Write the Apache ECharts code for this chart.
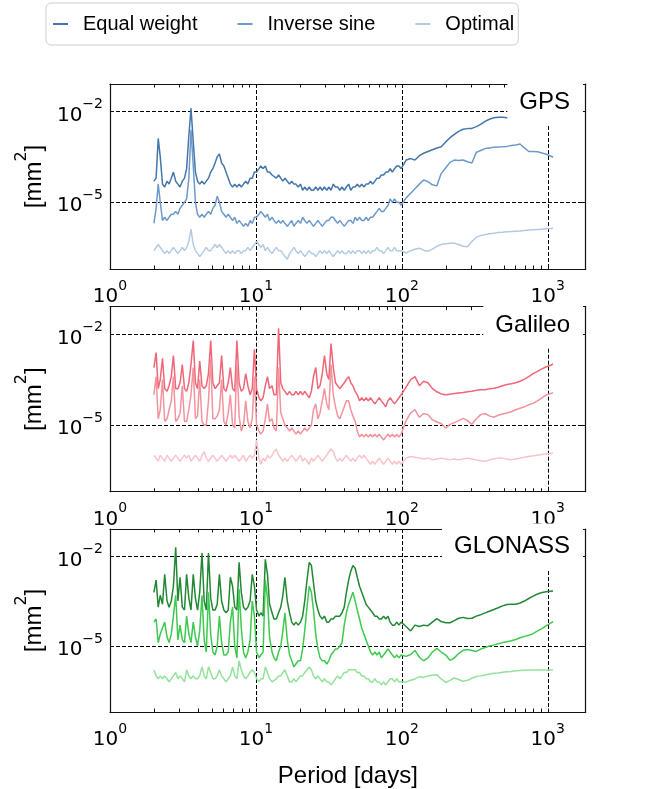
<!DOCTYPE html>
<html><head><meta charset="utf-8">
<script src="https://cdn.jsdelivr.net/npm/echarts@6/dist/echarts.min.js"></script>
<style>html,body{margin:0;padding:0;background:#fff}#c{width:648px;height:789px}</style>
</head><body><div id="c"></div>
<script>
const FONT = "'Liberation Sans', Arial, Helvetica, sans-serif";
const MATH = "'DejaVu Sans', sans-serif";
const seriesNames = ['Equal weight', 'Inverse sine', 'Optimal'];
const panelNames = ['GPS', 'Galileo', 'GLONASS'];
const xLabelTicks = [1, 10, 100, 1000];
const xGridTicks = [10, 100, 1000];
const xAllTicks = [1,2,3,4,5,6,7,8,9,10,20,30,40,50,60,70,80,90,100,200,300,400,500,600,700,800,900,1000];
const yLabelTicks = [1e-5, 1e-2];

// Period [days] sample points shared by all series
const periods = [2.00,2.07,2.14,2.21,2.29,2.37,2.46,2.54,2.63,2.72,2.82,2.92,3.02,3.13,3.24,3.35,3.47,3.59,3.72,3.85,3.98,4.12,4.27,4.42,4.57,4.73,4.90,5.07,5.25,5.43,5.62,5.82,6.03,6.24,6.46,6.68,6.92,7.16,7.41,7.67,7.94,8.22,8.51,8.81,9.12,9.44,9.77,10.1,10.5,10.8,11.2,11.6,12.0,12.4,12.9,13.3,13.8,14.3,14.8,15.3,15.8,16.4,17.0,17.6,18.2,18.8,19.5,20.2,20.9,21.6,22.4,23.2,24.0,24.8,25.7,26.6,27.5,28.5,29.5,30.6,31.6,32.7,33.9,35.1,36.3,37.6,38.9,40.3,41.7,43.2,44.7,46.2,47.9,49.5,51.3,53.1,55.0,56.9,58.9,61.0,63.1,65.3,67.6,70.0,72.4,75.0,77.6,80.4,83.2,86.1,89.1,92.3,95.5,98.9,107,115,123,132,141,151,162,174,186,200,214,229,245,263,282,302,324,347,372,398,427,457,490,525,562,603,646,692,741,794,851,912,977,1047,1087];

// GPS [mm^2]
const gpsEqual = [5e-5,6.3e-5,1.3e-3,3.2e-4,4e-5,3.2e-5,5e-5,4e-5,6.3e-5,1e-4,
5e-5,4e-5,3.2e-5,5e-5,6.3e-5,1.3e-4,1.6e-3,1.3e-2,1e-3,1e-4,
5e-5,4e-5,5e-5,4e-5,5e-5,6.3e-5,1e-4,1.3e-4,2e-4,3.2e-4,
4e-4,2e-4,1.6e-4,1e-4,6.3e-5,4e-5,3.2e-5,4e-5,3.2e-5,4e-5,
3.2e-5,4e-5,5e-5,4e-5,6.3e-5,6.3e-5,1e-4,1e-4,1.3e-4,1.6e-4,
1.3e-4,1.6e-4,1e-4,1e-4,8e-5,8e-5,6.3e-5,8e-5,6.3e-5,5e-5,
6.3e-5,5e-5,4e-5,5e-5,4e-5,4e-5,3.2e-5,4e-5,2.5e-5,3.2e-5,
2.5e-5,3.2e-5,2.5e-5,2.5e-5,3.2e-5,2.5e-5,3.2e-5,2.5e-5,3.2e-5,2.5e-5,
3.2e-5,2.5e-5,4e-5,3.2e-5,3.2e-5,2.5e-5,3.2e-5,2.5e-5,3.2e-5,4e-5,
2.5e-5,3.2e-5,3.2e-5,4e-5,3.2e-5,4e-5,3.2e-5,4e-5,4e-5,5e-5,
4e-5,5e-5,6.3e-5,6.3e-5,8e-5,8e-5,1e-4,1e-4,1.3e-4,1e-4,
1.3e-4,1.6e-4,1.6e-4,1.3e-4,
2.5e-4,2.8e-4,2.5e-4,3.5e-4,4.2e-4,4.8e-4,5.5e-4,6.3e-4,6.9e-4,1e-3,
1.38e-3,1.78e-3,2.24e-3,2.63e-3,2.75e-3,2.8e-3,3.2e-3,3.8e-3,4.8e-3,5.6e-3,
6.3e-3,6.6e-3,6.6e-3,6.3e-3,6e-3,null,null,null,null,null,null,null,null,null,null];
const gpsInverse = [2e-6,6.3e-6,4e-5,1e-5,2.5e-6,3.2e-6,2.5e-6,3.2e-6,4e-6,4e-6,
5e-6,4e-6,6.3e-6,8e-6,1e-5,1.3e-5,6.3e-5,2.5e-3,1.6e-4,1e-5,
4e-6,3.2e-6,4e-6,3.2e-6,4e-6,5e-6,4e-6,6.3e-6,8e-6,1.6e-5,
1e-5,5e-6,4e-6,3.2e-6,4e-6,3.2e-6,2.5e-6,3.2e-6,2e-6,2.5e-6,
2e-6,1.6e-6,2e-6,1.6e-6,2.5e-6,2e-6,3.2e-6,3.2e-6,4e-6,5e-6,
4e-6,3.2e-6,4e-6,2.5e-6,3.2e-6,2.5e-6,2e-6,2.5e-6,2e-6,2.5e-6,
2e-6,1.6e-6,2e-6,2.5e-6,1.6e-6,2e-6,2.5e-6,2e-6,3.2e-6,2.5e-6,
2e-6,2.5e-6,2e-6,1.6e-6,2e-6,2.5e-6,2e-6,1.6e-6,2e-6,2.5e-6,
2.5e-6,3.2e-6,3.2e-6,2.5e-6,2e-6,2.5e-6,2e-6,1.6e-6,2e-6,2.5e-6,
2.5e-6,2e-6,3.2e-6,2.5e-6,3.2e-6,2.5e-6,2.5e-6,3.2e-6,2.5e-6,3.2e-6,
3.2e-6,4e-6,5e-6,6.3e-6,5e-6,5e-6,6.3e-6,8e-6,1.3e-5,1e-5,
1.3e-5,1e-5,1e-5,8e-6,
1.4e-5,2e-5,2.8e-5,4e-5,5.5e-5,4.8e-5,3.8e-5,3.5e-5,8.9e-5,1.4e-4,
2.1e-4,2.5e-4,2.4e-4,2.5e-4,2.2e-4,2e-4,4.5e-4,5.2e-4,6e-4,6.3e-4,
6.6e-4,6.8e-4,6.9e-4,7.1e-4,7.6e-4,7.9e-4,8.5e-4,6.3e-4,4.8e-4,4.8e-4,4.7e-4,4.3e-4,3.9e-4,3.4e-4,3.1e-4];
const gpsOptimal = [2.5e-7,3.2e-7,4e-7,3.2e-7,2.5e-7,2e-7,2.5e-7,2e-7,2.5e-7,3.2e-7,
2.5e-7,2e-7,2.5e-7,3.2e-7,2.5e-7,3.2e-7,5e-7,1.3e-6,4e-7,2.5e-7,
2e-7,1.6e-7,2e-7,2.5e-7,3.2e-7,2.5e-7,2.5e-7,3.2e-7,4e-7,3.2e-7,
4e-7,3.2e-7,2.5e-7,2e-7,2.5e-7,2e-7,2.5e-7,2e-7,2.5e-7,2.5e-7,
2e-7,2.5e-7,2.5e-7,3.2e-7,2.5e-7,3.2e-7,4e-7,5e-7,4e-7,3.2e-7,
4e-7,2.5e-7,3.2e-7,2.5e-7,2e-7,2.5e-7,3.2e-7,2.5e-7,2.5e-7,2e-7,
1.6e-7,1.3e-7,2e-7,2.5e-7,3.2e-7,2.5e-7,2e-7,2.5e-7,2e-7,1.6e-7,
2e-7,2.5e-7,2e-7,2e-7,1.6e-7,2e-7,2.5e-7,2e-7,2.5e-7,2e-7,
2.5e-7,2e-7,1.6e-7,2e-7,2.5e-7,2e-7,2.5e-7,2e-7,2e-7,2.5e-7,
2e-7,2.5e-7,2e-7,2.5e-7,2.5e-7,2e-7,2.5e-7,2e-7,2.5e-7,2e-7,
2.5e-7,2.5e-7,3.2e-7,2.5e-7,2.5e-7,2e-7,2.5e-7,3.2e-7,2.5e-7,2.5e-7,
3.2e-7,2.5e-7,2.5e-7,2.5e-7,
2.1e-7,2.5e-7,2.8e-7,3e-7,2.6e-7,2.4e-7,2.8e-7,3.5e-7,4e-7,4.2e-7,
4.4e-7,4.4e-7,4e-7,3.5e-7,3.4e-7,5e-7,7e-7,7.9e-7,8.5e-7,9.1e-7,
9.5e-7,1e-6,1.02e-6,1.05e-6,1.07e-6,1.1e-6,1.12e-6,1.17e-6,1.2e-6,1.23e-6,1.26e-6,1.29e-6,1.32e-6,1.35e-6,1.38e-6];

// Galileo [mm^2]
const galEqual = [8e-4,2.5e-3,1.6e-4,3.2e-4,1.6e-3,1.6e-4,1.3e-4,2e-4,4e-4,2e-3,
1.6e-4,1.6e-4,2.5e-4,1e-3,1.6e-4,1.3e-4,2.5e-4,1e-3,6.3e-3,2.5e-4,
1.6e-4,1.3e-3,2e-4,1.6e-4,2e-4,5e-4,6.3e-3,2.5e-4,1.6e-4,2e-4,
2.5e-4,2e-3,1.6e-4,1.3e-4,2.5e-4,8e-4,1.6e-4,1.3e-4,6.3e-3,2.5e-4,
1.3e-4,1.6e-4,5e-4,2e-4,1e-4,1.6e-4,3.2e-3,1.6e-4,8e-5,6.3e-5,
8e-5,2e-4,4e-4,1.6e-4,2e-4,1e-4,1e-4,1.6e-2,2.5e-4,1.6e-4,
1.3e-4,1e-4,1.3e-4,1e-4,1e-4,1.3e-4,1e-4,1.3e-4,1e-4,1.3e-4,
1e-4,8e-5,1.3e-4,4e-4,8e-4,1.6e-4,2e-4,5e-4,2e-3,5e-4,
3.2e-4,5e-3,8e-4,2.5e-4,2e-4,1.6e-4,2e-4,2.5e-4,3.2e-4,4e-4,
2.5e-4,2e-4,1.3e-4,1e-4,6.3e-5,8e-5,6.3e-5,8e-5,6.3e-5,8e-5,
6.3e-5,5e-5,6.3e-5,8e-5,6.3e-5,5e-5,4e-5,6.3e-5,8e-5,6.3e-5,
5e-5,6.3e-5,8e-5,1e-4,
1.8e-4,3.2e-4,4e-4,2e-4,2.8e-4,2.5e-4,1.6e-4,1.26e-4,1.07e-4,1e-4,
1.05e-4,1.1e-4,1.15e-4,1.2e-4,1.26e-4,1.32e-4,1.41e-4,1.48e-4,1.48e-4,1.58e-4,
1.66e-4,1.78e-4,2e-4,2.2e-4,2.34e-4,2.5e-4,2.8e-4,3.3e-4,4e-4,5e-4,6e-4,7.2e-4,8.5e-4,9.5e-4,1.05e-3];
const galInverse = [1e-4,4e-4,1.6e-5,3.2e-5,3.2e-4,1.3e-5,1.6e-5,3.2e-5,6.3e-5,4e-4,
1.3e-5,1.6e-5,2.5e-5,2e-4,1.3e-5,1.3e-5,3.2e-5,1e-4,8e-4,1.6e-5,
2e-5,3.2e-4,1.3e-5,1e-5,1e-5,6.3e-5,1.6e-3,1.6e-5,1.6e-5,2e-5,
3.2e-5,3.2e-4,1.3e-5,1e-5,2.5e-5,1e-4,1e-5,8e-6,1.3e-3,2e-5,
6.3e-6,1e-5,6.3e-5,1.3e-5,8e-6,1.6e-5,4e-4,1e-5,6.3e-6,5e-6,
6.3e-6,1.6e-5,5e-5,1.3e-5,1.6e-5,8e-6,6.3e-6,8e-4,2.5e-5,1.6e-5,
1e-5,8e-6,6.3e-6,8e-6,6.3e-6,5e-6,6.3e-6,5e-6,6.3e-6,8e-6,
6.3e-6,8e-6,1e-5,3.2e-5,5e-5,1.6e-5,2.5e-5,6.3e-5,1.6e-4,5e-5,
3.2e-5,1e-3,1e-4,4e-5,2e-5,1.6e-5,2.5e-5,4e-5,6.3e-5,6.3e-5,
3.2e-5,2e-5,1.3e-5,6.3e-6,4e-6,5e-6,4e-6,5e-6,4e-6,5e-6,
4e-6,5e-6,4e-6,5e-6,4e-6,3.2e-6,4e-6,5e-6,4e-6,5e-6,
4e-6,5e-6,4e-6,5e-6,
1.4e-5,2.5e-5,3.2e-5,1.8e-5,2.4e-5,2.2e-5,1.5e-5,1.26e-5,1.12e-5,8e-6,
1.05e-5,1.2e-5,1.4e-5,1.66e-5,1.4e-5,1.05e-5,1.58e-5,2.2e-5,2.4e-5,2e-5,
1.8e-5,2.1e-5,2.3e-5,2.5e-5,2.75e-5,3.2e-5,3.6e-5,4e-5,4.7e-5,5.2e-5,6.3e-5,7.9e-5,1e-4,1.1e-4,1.17e-4];
const galOptimal = [1e-6,8e-7,6.3e-7,1e-6,8e-7,6.3e-7,1e-6,8e-7,6.3e-7,8e-7,
1e-6,8e-7,6.3e-7,8e-7,1e-6,8e-7,1e-6,6.3e-7,8e-7,1e-6,
8e-7,6.3e-7,1e-6,1.3e-6,8e-7,6.3e-7,8e-7,1e-6,8e-7,6.3e-7,
8e-7,1e-6,8e-7,6.3e-7,8e-7,1e-6,8e-7,1e-6,8e-7,6.3e-7,
8e-7,1e-6,6.3e-7,8e-7,1e-6,8e-7,1e-6,3.2e-6,8e-7,5e-7,
8e-7,6.3e-7,1e-6,8e-7,1e-6,1.3e-6,1.6e-6,1e-6,8e-7,6.3e-7,
8e-7,6.3e-7,8e-7,1e-6,8e-7,6.3e-7,8e-7,1e-6,6.3e-7,8e-7,
6.3e-7,5e-7,8e-7,6.3e-7,8e-7,1e-6,8e-7,6.3e-7,8e-7,1e-6,
1.3e-6,1.6e-6,1.3e-6,8e-7,6.3e-7,8e-7,6.3e-7,8e-7,1e-6,8e-7,
6.3e-7,8e-7,6.3e-7,8e-7,1e-6,8e-7,1e-6,8e-7,6.3e-7,5e-7,
6.3e-7,5e-7,6.3e-7,8e-7,6.3e-7,5e-7,6.3e-7,8e-7,6.3e-7,5e-7,
6.3e-7,5e-7,6.3e-7,5e-7,
8e-7,9e-7,8.5e-7,8e-7,7.5e-7,8e-7,7e-7,7.5e-7,8e-7,7.5e-7,
7e-7,7.5e-7,7e-7,7.5e-7,8e-7,7.5e-7,7e-7,6.5e-7,6.3e-7,7e-7,
7.5e-7,8e-7,8e-7,7.5e-7,7e-7,7.5e-7,8e-7,8.5e-7,9e-7,9.5e-7,1e-6,1.05e-6,1.1e-6,1.15e-6,1.2e-6];

// GLONASS [mm^2]
const gloEqual = [6.3e-4,1.6e-3,2e-4,5e-4,2.5e-4,2.5e-3,3.2e-4,2e-4,3.2e-4,1e-3,
2e-2,3.2e-4,2e-3,2e-4,1.6e-4,2.5e-3,4e-4,1.6e-4,2.5e-3,4e-4,
1.6e-4,6.3e-4,1.3e-2,3.2e-4,1.6e-4,1.3e-2,4e-4,1.6e-4,1.6e-4,2.5e-4,
2.5e-3,3.2e-4,1.6e-4,1.3e-4,1.6e-4,2e-3,1e-3,2e-4,1.6e-4,6.3e-3,
6.3e-4,2e-4,1.6e-4,2e-4,3.2e-4,2.5e-3,1e-3,1.6e-4,1e-4,1.3e-4,
1e-4,8e-3,2.5e-3,2.5e-4,1.3e-4,8e-5,8e-5,1.3e-4,2e-4,5e-4,
2e-3,3.2e-4,1.3e-4,6.3e-5,5e-5,6.3e-5,5e-5,6.3e-5,1e-4,3.2e-4,
1.6e-3,6.3e-3,5e-3,1.3e-3,3.2e-4,1.6e-4,1e-4,8e-5,1e-4,6.3e-5,
6.3e-5,8e-5,8e-5,1e-4,1e-4,1e-4,1.3e-4,2e-4,6.3e-4,1.6e-3,
3.2e-3,5e-3,4e-3,2e-3,1e-3,6.3e-4,4e-4,2.5e-4,2e-4,1.6e-4,
1.3e-4,1e-4,1e-4,8e-5,8e-5,1e-4,8e-5,1e-4,6.3e-5,5e-5,
5e-5,6.3e-5,5e-5,6.3e-5,
4.5e-5,3.2e-5,5e-5,4.5e-5,5e-5,4.8e-5,6.3e-5,8.3e-5,6.6e-5,6e-5,
6e-5,7.1e-5,8.5e-5,9.1e-5,8.3e-5,8.5e-5,1e-4,1.12e-4,1.29e-4,1.45e-4,
1.66e-4,1.9e-4,2.2e-4,2.45e-4,2.5e-4,2.5e-4,2.75e-4,3.2e-4,3.9e-4,4.7e-4,5.5e-4,6.2e-4,6.6e-4,6.8e-4,6.9e-4];
const gloInverse = [6.3e-5,8e-5,1.3e-5,2.5e-5,4e-5,6.3e-5,2e-5,1.3e-5,2.5e-5,1e-4,
5e-4,1.6e-5,5e-5,1.6e-5,1.3e-5,1e-4,2.5e-5,1.3e-5,6.3e-5,2e-5,
1e-5,3.2e-5,5e-4,1.6e-5,6.3e-6,6.3e-4,2.5e-5,6.3e-6,5e-6,1e-5,
1e-4,1.3e-5,5e-6,5e-6,6.3e-6,6.3e-5,2e-4,1e-5,4e-6,8e-4,
4e-5,6.3e-6,4e-6,6.3e-6,1.6e-5,3.2e-4,1e-4,6.3e-6,4e-6,5e-6,
6.3e-6,1.6e-3,4e-4,2e-5,6.3e-6,4e-6,3.2e-6,6.3e-6,1e-5,3.2e-5,
1.3e-4,1.6e-5,5e-6,3.2e-6,2e-6,2.5e-6,3.2e-6,3.2e-6,8e-6,3.2e-5,
2e-4,1e-3,6.3e-4,1.6e-4,2.5e-5,8e-6,4e-6,3.2e-6,3.2e-6,2.5e-6,
3.2e-6,5e-6,6.3e-6,8e-6,8e-6,1e-5,1.3e-5,5e-5,1.3e-4,2.5e-4,
4e-4,6.3e-4,3.2e-4,1.6e-4,8e-5,4e-5,2.5e-5,1.6e-5,1e-5,6.3e-6,
5e-6,6.3e-6,5e-6,6.3e-6,4e-6,5e-6,6.3e-6,8e-6,6.3e-6,5e-6,
4e-6,5e-6,4e-6,5e-6,
4.5e-6,5.2e-6,7.1e-6,4.2e-6,3.2e-6,4e-6,6.3e-6,8.3e-6,6.3e-6,5e-6,
3.3e-6,4e-6,5.6e-6,7.2e-6,7.6e-6,7.1e-6,6.6e-6,7.9e-6,8.9e-6,1e-5,
1.07e-5,1.2e-5,1.3e-5,1.4e-5,1.5e-5,1.66e-5,1.9e-5,2.1e-5,2.3e-5,2.6e-5,3.2e-5,3.8e-5,4.8e-5,5.8e-5,6.6e-5];
const gloOptimal = [1.6e-6,1e-6,8e-7,1e-6,8e-7,1e-6,8e-7,6.3e-7,8e-7,1e-6,
1.3e-6,8e-7,1e-6,8e-7,6.3e-7,1.6e-6,1e-6,8e-7,1e-6,8e-7,
8e-7,1e-6,2e-6,1e-6,8e-7,2e-6,1.3e-6,8e-7,8e-7,1e-6,
1.6e-6,1e-6,8e-7,6.3e-7,8e-7,1e-6,2e-6,1e-6,8e-7,3.2e-6,
1.6e-6,1e-6,8e-7,1e-6,1.3e-6,1.6e-6,1.3e-6,8e-7,6.3e-7,8e-7,
8e-7,2e-6,1.3e-6,8e-7,6.3e-7,6.3e-7,8e-7,1e-6,1e-6,1.3e-6,
1.6e-6,1e-6,6.3e-7,6.3e-7,8e-7,6.3e-7,8e-7,1e-6,1e-6,1.3e-6,
1.6e-6,2e-6,1.6e-6,1e-6,8e-7,1e-6,8e-7,6.3e-7,8e-7,6.3e-7,
6.3e-7,5e-7,6.3e-7,8e-7,1e-6,8e-7,1e-6,1.3e-6,1.3e-6,1.6e-6,
1.6e-6,1.6e-6,1.6e-6,1.3e-6,1.3e-6,1e-6,1e-6,8e-7,8e-7,6.3e-7,
6.3e-7,8e-7,6.3e-7,6.3e-7,5e-7,6.3e-7,5e-7,6.3e-7,8e-7,8e-7,
6.3e-7,8e-7,6.3e-7,6.3e-7,
6.3e-7,7.1e-7,7.9e-7,9.5e-7,8.9e-7,1e-6,1.05e-6,1.1e-6,7.9e-7,6e-7,
7.1e-7,8.5e-7,7.6e-7,6.6e-7,7.1e-7,8.3e-7,9.5e-7,1e-6,1.07e-6,1.15e-6,
1.23e-6,1.26e-6,1.32e-6,1.38e-6,1.41e-6,1.48e-6,1.51e-6,1.55e-6,1.58e-6,1.58e-6,1.58e-6,1.58e-6,1.58e-6,1.58e-6,1.58e-6];

const panelData = [[gpsEqual, gpsInverse, gpsOptimal],[galEqual, galInverse, galOptimal],[gloEqual, gloInverse, gloOptimal]];
const panelColors = [['#4477aa','#6d9acb','#b3cae3'],['#ee6677','#f3939e','#f8c4ca'],['#228833','#3ec94f','#93e29c']];

const X_MIN = 1, X_MAX = 1820, Y_MIN = 6.18e-8, Y_MAX = 0.0826;
const gridTops = [84, 306.7, 529];
const titleTops = [79.5, 302, 523.5];
const AX = '#111';

function toPairs(vals) {
  const out = [];
  for (let j = 0; j < periods.length && j < vals.length; j++) {
    if (vals[j] != null) out.push([periods[j], vals[j]]);
  }
  return out;
}
function supFmt(v) {
  const e = Math.round(Math.log10(v));
  const s = e < 0 ? '\u2212' + (-e) : String(e);
  return '{b|10}{s|' + s + '}';
}
const supRich = {
  b: { fontSize: 20, fontFamily: MATH, color: '#000', lineHeight: 28, verticalAlign: 'bottom' },
  s: { fontSize: 14, fontFamily: MATH, color: '#000', lineHeight: 15, verticalAlign: 'top' }
};

const grid = [], xAxis = [], yAxis = [], series = [], title = [];
for (let i = 0; i < 3; i++) {
  grid.push({ left: 110, top: gridTops[i], width: 475.7, height: 185 });
  const base = { type: 'log', logBase: 10, gridIndex: i, min: X_MIN, max: X_MAX };
  xAxis.push(Object.assign({}, base, {
    position: 'bottom',
    axisLine: { show: true, onZero: false, lineStyle: { color: AX, width: 1.2 } },
    axisTick: { show: true, inside: true, length: 3.5, customValues: xAllTicks, lineStyle: { color: AX, width: 1 } },
    minorTick: { show: false },
    axisLabel: { show: true, customValues: xLabelTicks, formatter: supFmt, rich: supRich, margin: 10 },
    splitLine: { show: false },
    name: i === 2 ? 'Period [days]' : '',
    nameLocation: 'middle', nameGap: 52,
    nameTextStyle: { fontSize: 24, fontFamily: FONT, color: '#000' }
  }));
  xAxis.push(Object.assign({}, base, {
    position: 'top',
    axisLine: { show: true, onZero: false, lineStyle: { color: AX, width: 1.2 } },
    axisTick: { show: true, inside: true, length: 3.5, customValues: xAllTicks, lineStyle: { color: AX, width: 1 } },
    axisLabel: { show: false },
    splitLine: { show: false }
  }));
  xAxis.push(Object.assign({}, base, {
    position: 'bottom',
    axisLine: { show: false },
    axisTick: { show: false, customValues: xGridTicks },
    axisLabel: { show: false },
    splitLine: { show: true, lineStyle: { color: '#000', width: 1, type: [4, 2] } }
  }));
  const ybase = { type: 'log', logBase: 10, gridIndex: i, min: Y_MIN, max: Y_MAX };
  yAxis.push(Object.assign({}, ybase, {
    position: 'left',
    axisLine: { show: true, onZero: false, lineStyle: { color: AX, width: 1.2 } },
    axisTick: { show: true, inside: true, length: 4, customValues: yLabelTicks, lineStyle: { color: AX, width: 1 } },
    axisLabel: { show: true, customValues: yLabelTicks, formatter: supFmt, rich: supRich, margin: 7 },
    splitLine: { show: true, lineStyle: { color: '#000', width: 1, type: [4, 2] } },
    name: '{a|[mm}{s|2}{a|]}', nameLocation: 'middle', nameGap: 64, nameRotate: 90,
    nameTextStyle: { rich: {
      a: { fontSize: 24, fontFamily: FONT, color: '#000', lineHeight: 32, verticalAlign: 'bottom' },
      s: { fontSize: 16, fontFamily: MATH, color: '#000', lineHeight: 17, verticalAlign: 'top' }
    } }
  }));
  yAxis.push(Object.assign({}, ybase, {
    position: 'right',
    axisLine: { show: true, onZero: false, lineStyle: { color: AX, width: 1.2 } },
    axisTick: { show: true, inside: true, length: 4, customValues: yLabelTicks, lineStyle: { color: AX, width: 1 } },
    axisLabel: { show: false },
    splitLine: { show: false }
  }));
  for (let k = 0; k < 3; k++) {
    series.push({
      type: 'line', name: seriesNames[k], xAxisIndex: 3 * i, yAxisIndex: 2 * i,
      data: toPairs(panelData[i][k]), showSymbol: false, symbol: 'none',
      lineStyle: { width: 1.5, color: panelColors[i][k] }, itemStyle: { color: panelColors[i][k] },
      z: 2, silent: true
    });
  }
  title.push({
    text: panelNames[i], right: 65, top: titleTops[i],
    padding: [11, 13, 11, 12], backgroundColor: '#fff', z: 10,
    textStyle: { fontSize: 24, fontWeight: 'normal', fontFamily: FONT, color: '#000' }
  });
}

const chart = echarts.init(document.getElementById('c'), null, { renderer: 'canvas' });
chart.setOption({
  animation: false,
  backgroundColor: '#fff',
  title, grid, xAxis, yAxis, series,
  legend: {
    data: seriesNames, left: 46, top: 3, padding: [11, 4, 11, 7],
    borderColor: '#cccccc', borderWidth: 1, borderRadius: 5, itemGap: 40,
    icon: 'rect', itemWidth: 15, itemHeight: 2,
    textStyle: { fontSize: 20, fontFamily: FONT, color: '#000', padding: [0, 0, 0, 10] }
  }
});
</script></body></html>
